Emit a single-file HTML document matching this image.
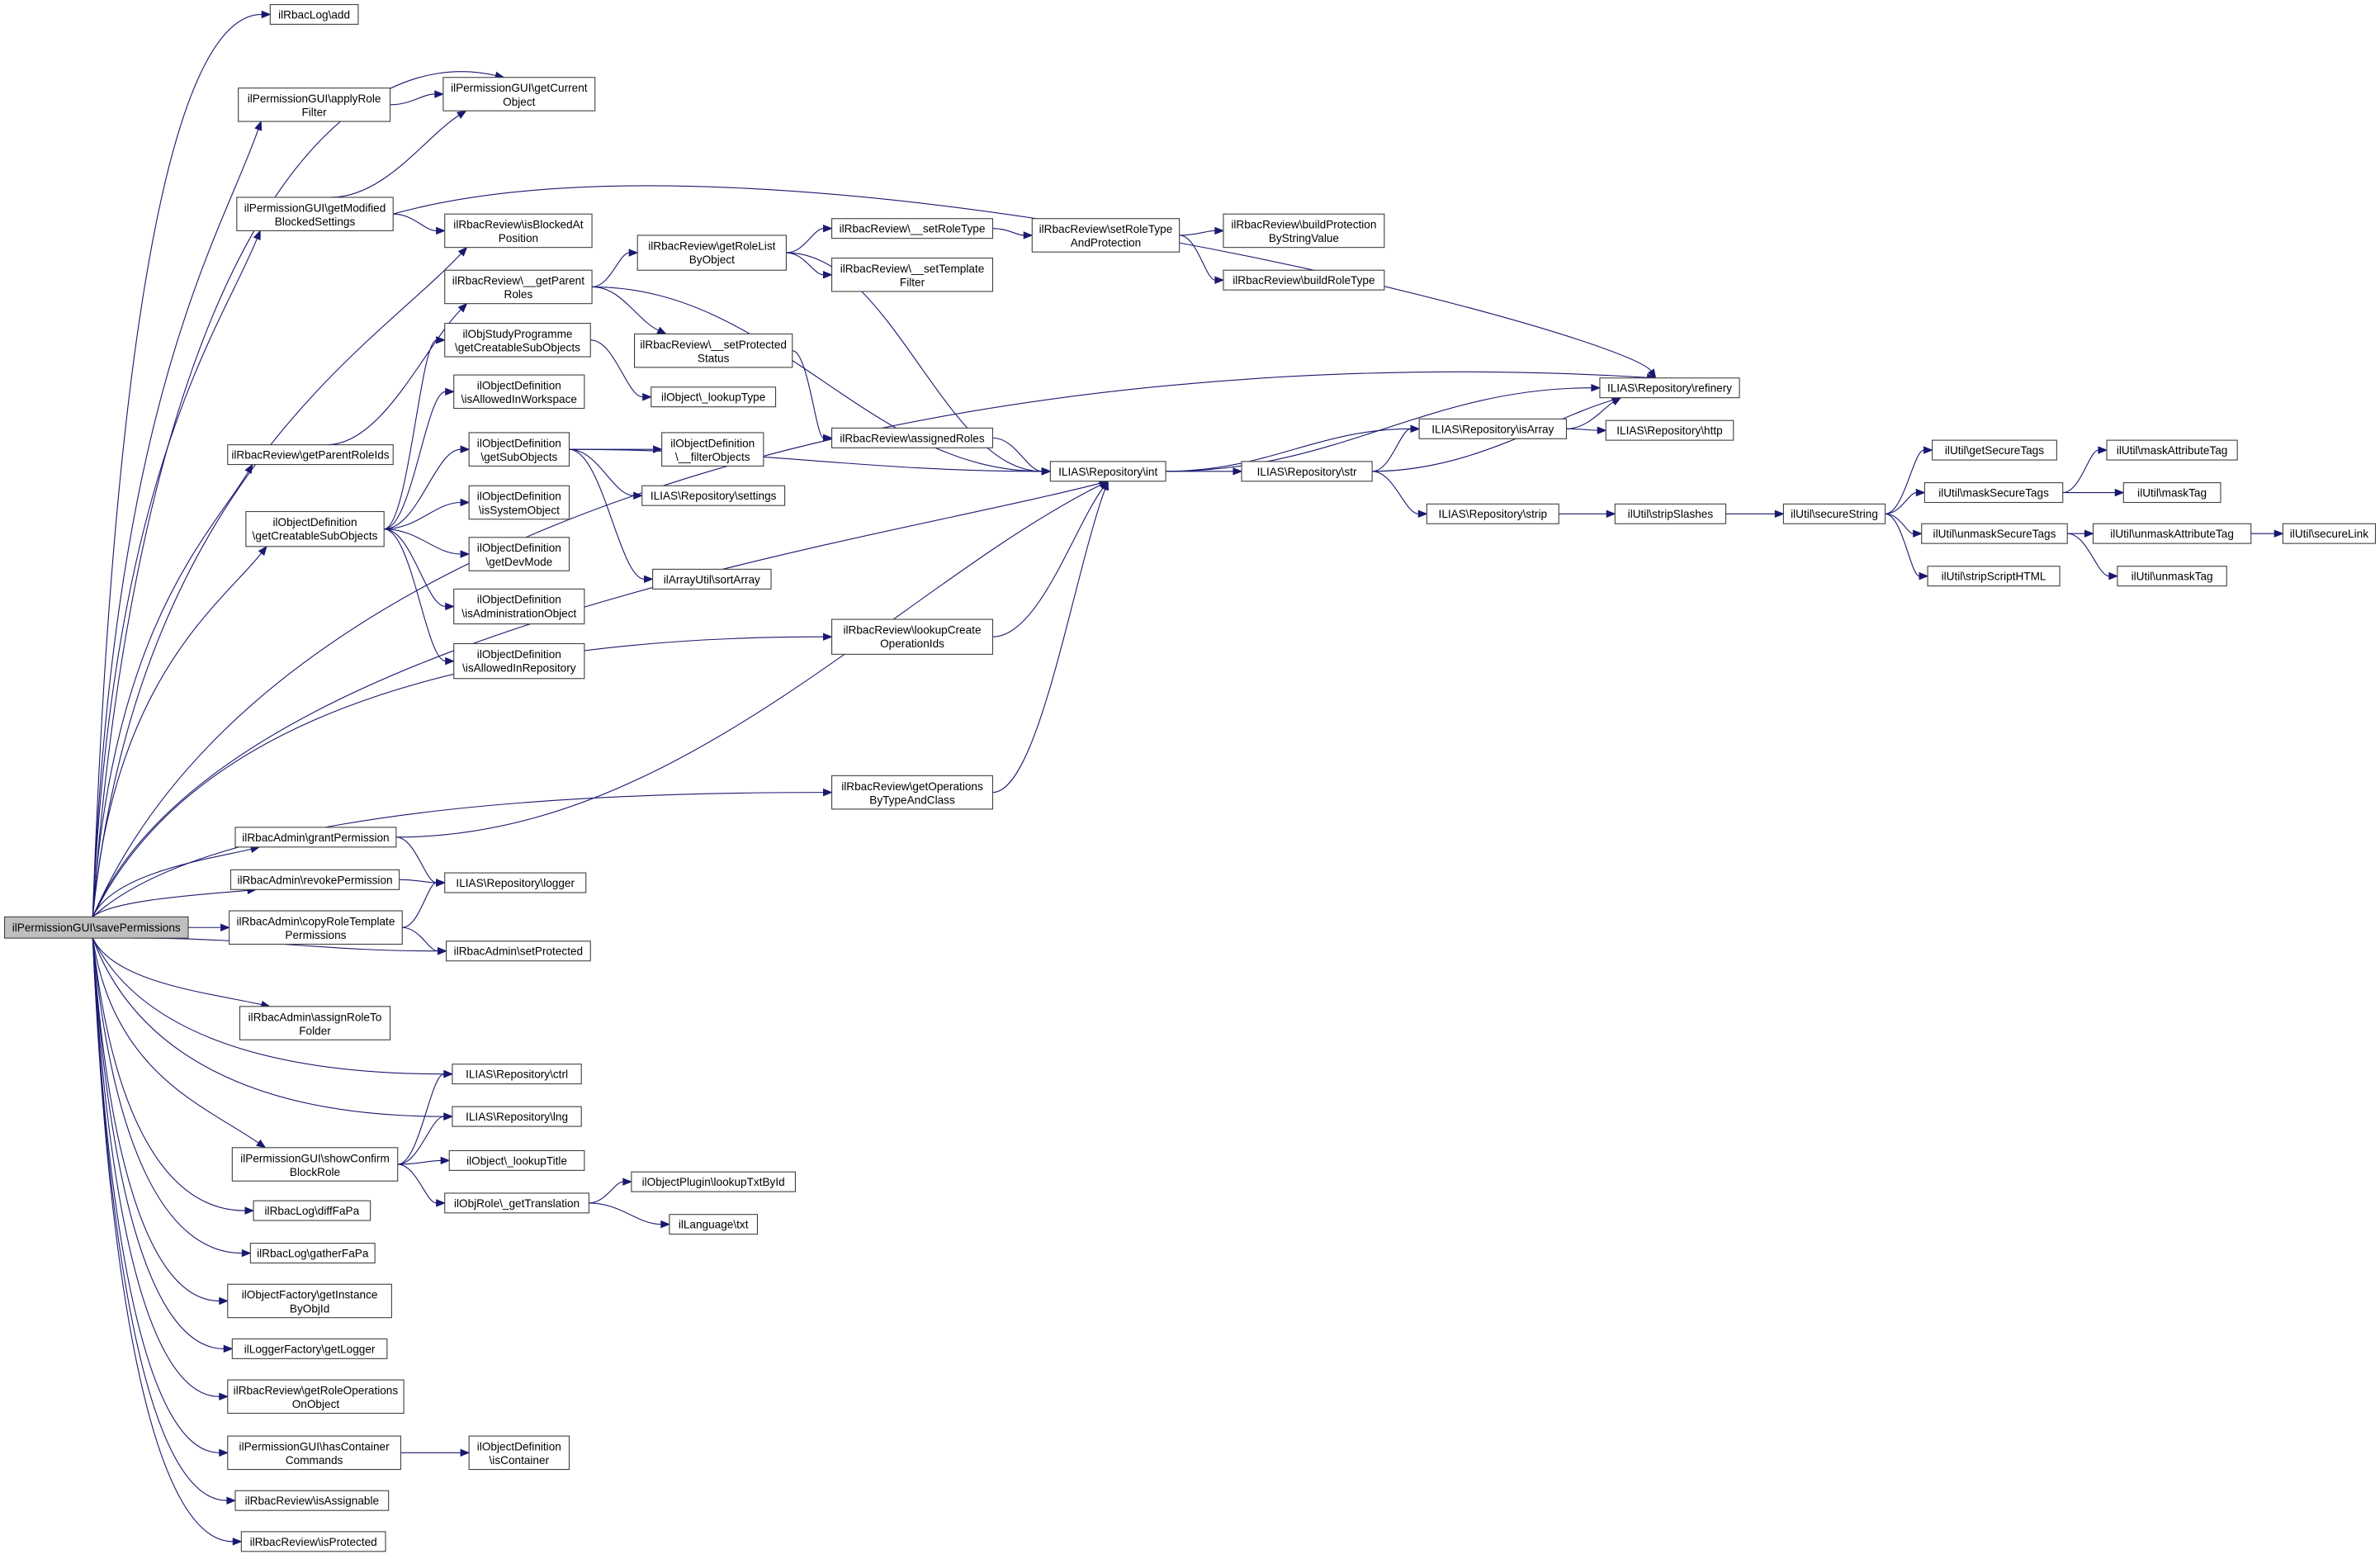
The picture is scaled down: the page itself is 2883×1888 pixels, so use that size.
<!DOCTYPE html>
<html><head><meta charset="utf-8"><style>
html,body{margin:0;padding:0;background:#fff;}
svg{display:block;}
text{font-family:"Liberation Sans",Arial,sans-serif;font-size:7.4px;fill:#000;text-anchor:middle;}
rect{fill:#fff;stroke:#404040;stroke-width:0.6;}
</style></head><body>
<svg id="g" width="2883" height="1888" viewBox="0 0 1568 1027" preserveAspectRatio="none" xmlns="http://www.w3.org/2000/svg">
<g id="edges" fill="none" stroke="#191970" stroke-width="0.6"></g>
<g id="heads" fill="#191970" stroke="#191970" stroke-width="0.5"></g>
<g id="nodes">
<rect x="3" y="604" width="121" height="14" style="fill:#bfbfbf"/><text x="63.5" y="613.7">ilPermissionGUI\savePermissions</text>
<rect x="178" y="3" width="58" height="13"/><text x="207" y="12.2">ilRbacLog\add</text>
<rect x="157" y="58" width="100" height="22"/><text x="207" y="67.5">ilPermissionGUI\applyRole</text><text x="207" y="76.5">Filter</text>
<rect x="292" y="51" width="100" height="22"/><text x="342" y="60.5">ilPermissionGUI\getCurrent</text><text x="342" y="69.5">Object</text>
<rect x="156" y="130" width="103" height="22"/><text x="207.5" y="139.5">ilPermissionGUI\getModified</text><text x="207.5" y="148.5">BlockedSettings</text>
<rect x="293" y="141" width="97" height="22"/><text x="341.5" y="150.5">ilRbacReview\isBlockedAt</text><text x="341.5" y="159.5">Position</text>
<rect x="150" y="293" width="109" height="13"/><text x="204.5" y="302.2">ilRbacReview\getParentRoleIds</text>
<rect x="162" y="337" width="91" height="23"/><text x="207.5" y="346.5">ilObjectDefinition</text><text x="207.5" y="355.5">\getCreatableSubObjects</text>
<rect x="293" y="178" width="97" height="22"/><text x="341.5" y="187.5">ilRbacReview\__getParent</text><text x="341.5" y="196.5">Roles</text>
<rect x="293" y="213" width="96" height="22"/><text x="341" y="222.5">ilObjStudyProgramme</text><text x="341" y="231.5">\getCreatableSubObjects</text>
<rect x="299" y="247" width="86" height="22"/><text x="342" y="256.5">ilObjectDefinition</text><text x="342" y="265.5">\isAllowedInWorkspace</text>
<rect x="309" y="285" width="66" height="22"/><text x="342" y="294.5">ilObjectDefinition</text><text x="342" y="303.5">\getSubObjects</text>
<rect x="309" y="320" width="66" height="22"/><text x="342" y="329.5">ilObjectDefinition</text><text x="342" y="338.5">\isSystemObject</text>
<rect x="309" y="354" width="66" height="22"/><text x="342" y="363.5">ilObjectDefinition</text><text x="342" y="372.5">\getDevMode</text>
<rect x="299" y="388" width="86" height="23"/><text x="342" y="397.5">ilObjectDefinition</text><text x="342" y="406.5">\isAdministrationObject</text>
<rect x="299" y="424" width="86" height="23"/><text x="342" y="433.5">ilObjectDefinition</text><text x="342" y="442.5">\isAllowedInRepository</text>
<rect x="420" y="155" width="98" height="23"/><text x="469" y="164.5">ilRbacReview\getRoleList</text><text x="469" y="173.5">ByObject</text>
<rect x="418" y="220" width="104" height="22"/><text x="470" y="229.5">ilRbacReview\__setProtected</text><text x="470" y="238.5">Status</text>
<rect x="429" y="255" width="82" height="13"/><text x="470" y="264.2">ilObject\_lookupType</text>
<rect x="436" y="285" width="67" height="22"/><text x="469.5" y="294.5">ilObjectDefinition</text><text x="469.5" y="303.5">\__filterObjects</text>
<rect x="423" y="320" width="94" height="13"/><text x="470" y="329.2">ILIAS\Repository\settings</text>
<rect x="430" y="375" width="78" height="13"/><text x="469" y="384.2">ilArrayUtil\sortArray</text>
<rect x="548" y="144" width="106" height="13"/><text x="601" y="153.2">ilRbacReview\__setRoleType</text>
<rect x="548" y="170" width="106" height="22"/><text x="601" y="179.5">ilRbacReview\__setTemplate</text><text x="601" y="188.5">Filter</text>
<rect x="548" y="282" width="106" height="13"/><text x="601" y="291.2">ilRbacReview\assignedRoles</text>
<rect x="548" y="408" width="106" height="23"/><text x="601" y="417.5">ilRbacReview\lookupCreate</text><text x="601" y="426.5">OperationIds</text>
<rect x="548" y="511" width="106" height="22"/><text x="601" y="520.5">ilRbacReview\getOperations</text><text x="601" y="529.5">ByTypeAndClass</text>
<rect x="692" y="304" width="76" height="13"/><text x="730" y="313.2">ILIAS\Repository\int</text>
<rect x="680" y="144" width="97" height="22"/><text x="728.5" y="153.5">ilRbacReview\setRoleType</text><text x="728.5" y="162.5">AndProtection</text>
<rect x="806" y="141" width="106" height="22"/><text x="859" y="150.5">ilRbacReview\buildProtection</text><text x="859" y="159.5">ByStringValue</text>
<rect x="806" y="178" width="106" height="13"/><text x="859" y="187.2">ilRbacReview\buildRoleType</text>
<rect x="818" y="304" width="86" height="13"/><text x="861" y="313.2">ILIAS\Repository\str</text>
<rect x="1054" y="249" width="92" height="13"/><text x="1100" y="258.2">ILIAS\Repository\refinery</text>
<rect x="935" y="276" width="97" height="13"/><text x="983.5" y="285.2">ILIAS\Repository\isArray</text>
<rect x="1058" y="277" width="84" height="13"/><text x="1100" y="286.2">ILIAS\Repository\http</text>
<rect x="940" y="332" width="87" height="13"/><text x="983.5" y="341.2">ILIAS\Repository\strip</text>
<rect x="1064" y="332" width="73" height="13"/><text x="1100.5" y="341.2">ilUtil\stripSlashes</text>
<rect x="1175" y="332" width="67" height="13"/><text x="1208.5" y="341.2">ilUtil\secureString</text>
<rect x="1273" y="290" width="82" height="13"/><text x="1314" y="299.2">ilUtil\getSecureTags</text>
<rect x="1268" y="318" width="91" height="13"/><text x="1313.5" y="327.2">ilUtil\maskSecureTags</text>
<rect x="1266" y="345" width="96" height="13"/><text x="1314" y="354.2">ilUtil\unmaskSecureTags</text>
<rect x="1270" y="373" width="87" height="13"/><text x="1313.5" y="382.2">ilUtil\stripScriptHTML</text>
<rect x="1388" y="290" width="86" height="13"/><text x="1431" y="299.2">ilUtil\maskAttributeTag</text>
<rect x="1399" y="318" width="64" height="13"/><text x="1431" y="327.2">ilUtil\maskTag</text>
<rect x="1379" y="345" width="104" height="13"/><text x="1431" y="354.2">ilUtil\unmaskAttributeTag</text>
<rect x="1395" y="373" width="72" height="13"/><text x="1431" y="382.2">ilUtil\unmaskTag</text>
<rect x="1504" y="345" width="61" height="13"/><text x="1534.5" y="354.2">ilUtil\secureLink</text>
<rect x="155" y="545" width="106" height="13"/><text x="208" y="554.2">ilRbacAdmin\grantPermission</text>
<rect x="152" y="573" width="111" height="13"/><text x="207.5" y="582.2">ilRbacAdmin\revokePermission</text>
<rect x="151" y="600" width="114" height="22"/><text x="208" y="609.5">ilRbacAdmin\copyRoleTemplate</text><text x="208" y="618.5">Permissions</text>
<rect x="293" y="575" width="93" height="13"/><text x="339.5" y="584.2">ILIAS\Repository\logger</text>
<rect x="294" y="620" width="95" height="13"/><text x="341.5" y="629.2">ilRbacAdmin\setProtected</text>
<rect x="158" y="663" width="99" height="22"/><text x="207.5" y="672.5">ilRbacAdmin\assignRoleTo</text><text x="207.5" y="681.5">Folder</text>
<rect x="298" y="701" width="85" height="13"/><text x="340.5" y="710.2">ILIAS\Repository\ctrl</text>
<rect x="298" y="729" width="85" height="13"/><text x="340.5" y="738.2">ILIAS\Repository\lng</text>
<rect x="296" y="758" width="89" height="13"/><text x="340.5" y="767.2">ilObject\_lookupTitle</text>
<rect x="293" y="786" width="95" height="13"/><text x="340.5" y="795.2">ilObjRole\_getTranslation</text>
<rect x="416" y="772" width="108" height="13"/><text x="470" y="781.2">ilObjectPlugin\lookupTxtById</text>
<rect x="441" y="800" width="58" height="13"/><text x="470" y="809.2">ilLanguage\txt</text>
<rect x="153" y="756" width="109" height="22"/><text x="207.5" y="765.5">ilPermissionGUI\showConfirm</text><text x="207.5" y="774.5">BlockRole</text>
<rect x="167" y="791" width="77" height="13"/><text x="205.5" y="800.2">ilRbacLog\diffFaPa</text>
<rect x="165" y="819" width="82" height="13"/><text x="206" y="828.2">ilRbacLog\gatherFaPa</text>
<rect x="150" y="846" width="108" height="22"/><text x="204" y="855.5">ilObjectFactory\getInstance</text><text x="204" y="864.5">ByObjId</text>
<rect x="153" y="882" width="102" height="13"/><text x="204" y="891.2">ilLoggerFactory\getLogger</text>
<rect x="150" y="909" width="116" height="22"/><text x="208" y="918.5">ilRbacReview\getRoleOperations</text><text x="208" y="927.5">OnObject</text>
<rect x="150" y="946" width="114" height="22"/><text x="207" y="955.5">ilPermissionGUI\hasContainer</text><text x="207" y="964.5">Commands</text>
<rect x="309" y="946" width="66" height="22"/><text x="342" y="955.5">ilObjectDefinition</text><text x="342" y="964.5">\isContainer</text>
<rect x="155" y="982" width="101" height="13"/><text x="205.5" y="991.2">ilRbacReview\isAssignable</text>
<rect x="159" y="1009" width="95" height="13"/><text x="206.5" y="1018.2">ilRbacReview\isProtected</text>
</g>
</svg>
<script>
(function(){
var N={sp:[3,604,121,14],add:[178,3,58,13],arf:[157,58,100,22],gcur:[292,51,100,22],gmb:[156,130,103,22],iba:[293,141,97,22],gpr:[150,293,109,13],gcs:[162,337,91,23],pr:[293,178,97,22],osp:[293,213,96,22],aiw:[299,247,86,22],gso:[309,285,66,22],iso:[309,320,66,22],gdm:[309,354,66,22],iao:[299,388,86,23],iar:[299,424,86,23],rlo:[420,155,98,23],sps:[418,220,104,22],lkt:[429,255,82,13],fo:[436,285,67,22],set:[423,320,94,13],sa:[430,375,78,13],srt:[548,144,106,13],stf:[548,170,106,22],ar:[548,282,106,13],lco:[548,408,106,23],gobc:[548,511,106,22],int:[692,304,76,13],srtp:[680,144,97,22],bps:[806,141,106,22],brt:[806,178,106,13],str:[818,304,86,13],ref:[1054,249,92,13],isa:[935,276,97,13],http:[1058,277,84,13],strip:[940,332,87,13],ss:[1064,332,73,13],sec:[1175,332,67,13],gst:[1273,290,82,13],mst:[1268,318,91,13],ust:[1266,345,96,13],sth:[1270,373,87,13],mat:[1388,290,86,13],mt:[1399,318,64,13],uat:[1379,345,104,13],ut:[1395,373,72,13],sl:[1504,345,61,13],gp:[155,545,106,13],rp:[152,573,111,13],crt:[151,600,114,22],log:[293,575,93,13],setp:[294,620,95,13],a2f:[158,663,99,22],ctrl:[298,701,85,13],lng:[298,729,85,13],lt:[296,758,89,13],gt:[293,786,95,13],ltx:[416,772,108,13],txt:[441,800,58,13],scb:[153,756,109,22],dfp:[167,791,77,13],gfp:[165,819,82,13],gio:[150,846,108,22],gl:[153,882,102,13],gro:[150,909,116,22],hcc:[150,946,114,22],ic:[309,946,66,22],ias:[155,982,101,13],ip:[159,1009,95,13]};
var E=[
['sp','add'],['sp','gcur','t'],['sp','arf','bl'],['sp','ref','t'],['sp','gmb','bl'],['sp','iba','bl'],['sp','gpr','bl'],['sp','gcs','bl'],['sp','lco'],['sp','int','b'],['sp','gobc'],['sp','gp','bl'],['sp','rp','bl'],['sp','crt','r'],['sp','setp','r2'],['sp','a2f','tl'],['sp','ctrl'],['sp','lng'],['sp','scb','tl'],['sp','dfp'],['sp','gfp'],['sp','gio'],['sp','gl'],['sp','gro'],['sp','hcc'],['sp','ias'],['sp','ip'],
['arf','gcur'],['gmb','gcur','bl2'],['gmb','ref','t'],['gmb','iba'],['gpr','pr','bl2'],
['pr','rlo'],['pr','int'],['pr','sps','tl'],['rlo','srt'],['rlo','stf'],['rlo','int'],['srt','srtp'],['srtp','bps'],['srtp','brt'],['sps','ar'],['ar','int'],
['gcs','osp'],['gcs','aiw'],['gcs','gso'],['gcs','iso'],['gcs','gdm'],['gcs','iao'],['gcs','iar'],['osp','lkt'],['gso','fo'],['gso','set'],['gso','sa'],['gso','int'],
['lco','int','b'],['gobc','int','b'],['gp','log'],['gp','int','b'],['rp','log'],['crt','log'],['crt','setp'],
['scb','ctrl'],['scb','lng'],['scb','lt'],['scb','gt'],['gt','ltx'],['gt','txt'],['hcc','ic'],
['int','ref'],['int','isa'],['int','str'],['str','isa'],['str','ref','bl'],['str','strip'],['isa','ref','bl'],['isa','http'],
['strip','ss'],['ss','sec'],['sec','gst'],['sec','mst'],['sec','ust'],['sec','sth'],['mst','mat'],['mst','mt'],['ust','uat'],['ust','ut'],['uat','sl']];
var eg=document.getElementById('edges'),hg=document.getElementById('heads'),ns='http://www.w3.org/2000/svg';
E.forEach(function(e){
 var s=N[e[0]],t=N[e[1]],m=e[2]||'l';
 var sx,sy,tx,ty,c1x,c1y,c2x,c2y;
 if(m=='t'){tx=t[0]+t[2]*0.4;ty=t[1];}else if(m=='b'){tx=t[0]+t[2]/2;ty=t[1]+t[3];}
 else if(m=='bl'||m=='bl2'){tx=t[0]+t[2]*0.15;ty=t[1]+t[3];}
 else if(m=='tl'){tx=t[0]+t[2]*0.2;ty=t[1];}
 else {tx=t[0];ty=t[1]+t[3]/2;}
 if(e[0]=='sp'&&m!='r'&&m!='r2'){
  sx=s[0]+s[2]*0.48; sy=(ty<s[1])?s[1]:s[1]+s[3];
  c1x=sx+(tx-sx)*0.12;c1y=sy+(ty-sy)*0.65;c2x=sx+(tx-sx)*0.45;c2y=ty;
  if(m=='bl'||m=='b'){c2x=tx-(tx-sx)*0.25;c2y=ty+(sy-ty)*0.15;}
  if(m=='t'){c2x=tx-(tx-sx)*0.4;c2y=ty-25;c1y=sy+(ty-sy)*0.8;}
  if(m=='tl'){c2x=tx-(tx-sx)*0.35;c2y=ty-(ty-sy)*0.2;}
 } else {
  sx=s[0]+s[2]; sy=s[1]+s[3]/2;
  if(m=='r2'){sx=s[0]+s[2]*0.7;sy=s[1]+s[3];}
  if(m=='bl2'||(m=='t'&&ty<sy)){sx=s[0]+s[2]*0.6;sy=s[1];}
  var dx=tx-sx;
  c1x=sx+dx*0.4;c1y=sy;c2x=tx-dx*0.4;c2y=ty;
  if(m=='t'){c2x=tx-20;c2y=ty-30;c1x=sx+dx*0.3;c1y=sy-70;}
  if(m=='b'||m=='bl'||m=='bl2'){c2x=tx-dx*0.3;c2y=ty+(sy-ty)*0.3;}
  if(m=='tl'){c2x=tx-dx*0.4;c2y=ty-(ty-sy)*0.3;}
 }
 var ax=tx-c2x,ay=ty-c2y,L=Math.sqrt(ax*ax+ay*ay)||1;ax/=L;ay/=L;
 var hl=5.5,hw=2.2,bx=tx-ax*hl,by=ty-ay*hl;
 var p=document.createElementNS(ns,'path');
 p.setAttribute('d','M'+sx+','+sy+' C'+c1x+','+c1y+' '+c2x+','+c2y+' '+bx+','+by);
 eg.appendChild(p);
 var h=document.createElementNS(ns,'polygon');
 h.setAttribute('points',tx+','+ty+' '+(bx-ay*hw)+','+(by+ax*hw)+' '+(bx+ay*hw)+','+(by-ax*hw));
 hg.appendChild(h);
});
})();
</script>
</body></html>
